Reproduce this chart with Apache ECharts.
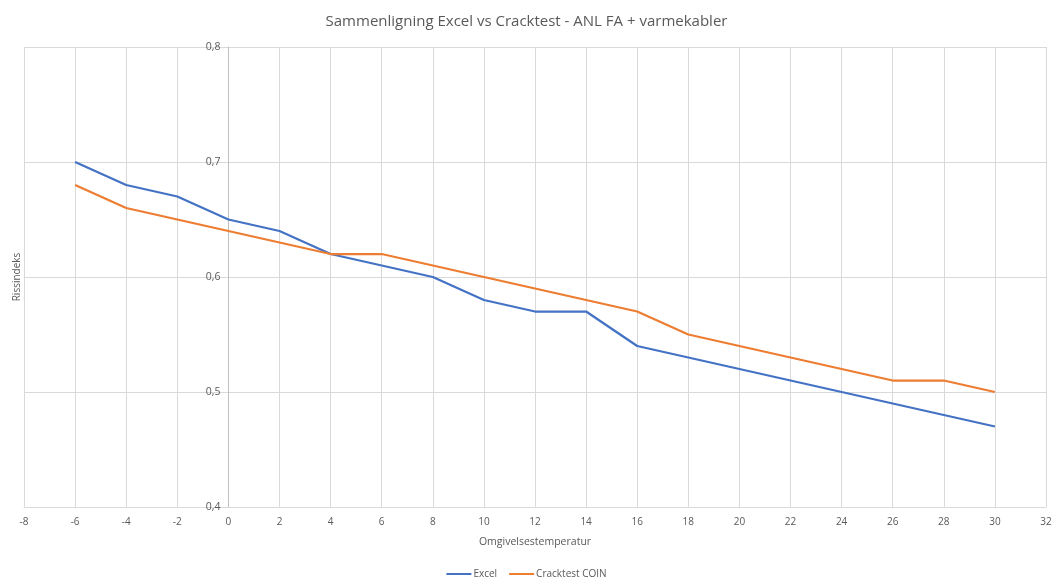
<!DOCTYPE html>
<html>
<head>
<meta charset="utf-8">
<script src="https://cdn.jsdelivr.net/npm/echarts@6/dist/echarts.min.js"></script>
<style>
  html, body { margin: 0; padding: 0; background: #fff; }
  #chart { width: 1053px; height: 579px; }
</style>
</head>
<body>
<div id="chart"></div>
<script>
// Ambient temperature (°C)
const temperatures = [-6, -4, -2, 0, 2, 4, 6, 8, 10, 12, 14, 16, 18, 20, 22, 24, 26, 28, 30];
// Crack index from the spreadsheet model
const excelValues = [0.70, 0.68, 0.67, 0.65, 0.64, 0.62, 0.61, 0.60, 0.58, 0.57, 0.57, 0.54, 0.53, 0.52, 0.51, 0.50, 0.49, 0.48, 0.47];
// Crack index from Cracktest COIN
const cracktestValues = [0.68, 0.66, 0.65, 0.64, 0.63, 0.62, 0.62, 0.61, 0.60, 0.59, 0.58, 0.57, 0.55, 0.54, 0.53, 0.52, 0.51, 0.51, 0.50];

const seriesNames = ['Excel', 'Cracktest COIN'];
const titleText = 'Sammenligning Excel vs Cracktest - ANL FA + varmekabler';
const xAxisName = 'Omgivelsestemperatur';
const yAxisName = 'Rissindeks';

const pairs = (xs, ys) => xs.map((x, i) => [x, ys[i]]);

const font = '"Open Sans", "Liberation Sans", sans-serif';
const textColor = '#595959';
const gridLeft = 24;
const yNameGap = 2;

const chart = echarts.init(document.getElementById('chart'));
chart.setOption({
  animation: false,
  textStyle: { fontFamily: font },
  title: {
    text: titleText,
    left: 'center',
    top: 9,
    textStyle: { fontFamily: font, fontSize: 15, fontWeight: 'normal', color: textColor }
  },
  grid: { left: gridLeft, right: 7, top: 47, bottom: 72, outerBoundsMode: 'none' },
  legend: {
    bottom: -5,
    left: 'center',
    icon: 'rect',
    itemWidth: 25,
    itemHeight: 2,
    itemGap: 12,
    textStyle: { fontFamily: font, fontSize: 10, color: textColor, padding: [0, 0, 0, -3] },
    data: seriesNames
  },
  xAxis: {
    type: 'value',
    min: -8,
    max: 32,
    interval: 2,
    name: xAxisName,
    nameLocation: 'middle',
    nameGap: 30,
    nameTextStyle: { fontFamily: font, fontSize: 10.5, color: textColor },
    axisLine: { show: true, lineStyle: { color: '#d9d9d9', width: 1 } },
    axisTick: { show: false },
    axisLabel: { fontFamily: font, fontSize: 10, color: textColor, margin: 10 },
    splitLine: { show: true, lineStyle: { color: '#d9d9d9', width: 1 } }
  },
  yAxis: {
    type: 'value',
    min: 0.4,
    max: 0.8,
    interval: 0.1,
    name: yAxisName,
    nameLocation: 'middle',
    nameRotate: 90,
    nameGap: yNameGap,
    nameTextStyle: { fontFamily: font, fontSize: 10, color: textColor },
    axisLine: { show: true, onZero: false, lineStyle: { color: '#bfbfbf', width: 1 } },
    axisTick: { show: false },
    axisLabel: {
      fontFamily: font, fontSize: 10.5, color: textColor, margin: 8,
      formatter: v => v.toFixed(1).replace('.', ',')
    },
    splitLine: { show: true, lineStyle: { color: '#d9d9d9', width: 1 } }
  },
  series: [
    {
      name: seriesNames[0],
      type: 'line',
      data: pairs(temperatures, excelValues),
      showSymbol: false,
      lineStyle: { color: '#4472C4', width: 2.25 },
      itemStyle: { color: '#4472C4' }
    },
    {
      name: seriesNames[1],
      type: 'line',
      data: pairs(temperatures, cracktestValues),
      showSymbol: false,
      lineStyle: { color: '#ED7D31', width: 2.25 },
      itemStyle: { color: '#ED7D31' }
    }
  ]
});

// Move the value axis (line and labels) onto x = 0, keeping its title at the left edge
const zeroX = chart.convertToPixel({ xAxisIndex: 0 }, 0);
const shift = zeroX - gridLeft;
chart.setOption({
  yAxis: { offset: -shift, nameGap: yNameGap + shift }
});
</script>
</body>
</html>
